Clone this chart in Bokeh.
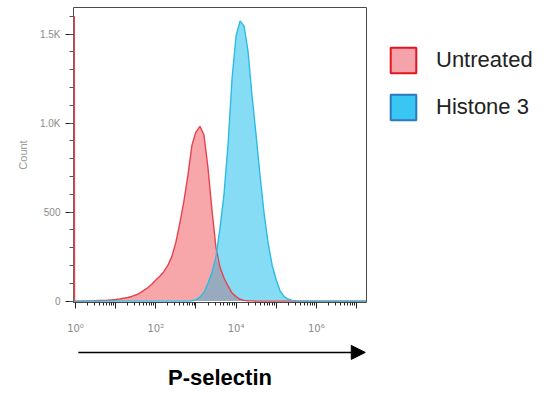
import numpy as np
from bokeh.plotting import figure
from bokeh.layouts import column
from bokeh.models import (FixedTicker, Range1d, Arrow, NormalHead, Legend,
                          LegendItem, ColumnDataSource)
from bokeh.embed import file_html
from bokeh.resources import INLINE

# ---- data (log10 of P-selectin fluorescence, histogram counts) ----
log_fl = [-0.05, -0.03, -0.025, 0.0, 0.1, 0.2, 0.3, 0.4, 0.5, 0.6, 0.7, 0.8, 0.9,
          1.0, 1.1, 1.2, 1.3, 1.4, 1.5, 1.6, 1.7, 1.8, 1.9,
          2.0, 2.1, 2.2, 2.3, 2.4, 2.5, 2.6, 2.7, 2.8, 2.9,
          3.0, 3.1, 3.2, 3.3, 3.4, 3.5, 3.6, 3.7, 3.8, 3.9,
          4.0, 4.1, 4.2, 4.3, 4.4, 4.5, 4.6, 4.7, 4.8, 4.9,
          5.0, 5.1, 5.2, 5.3, 5.4, 5.5, 5.6, 5.8, 6.0, 7.25]
untreated = [1600, 1600, 0, 0, 0, 0, 1, 1, 2, 3, 4, 5, 7,
             9, 12, 16, 20, 26, 34, 45, 60, 75, 95,
             118, 140, 165, 200, 250, 330, 440, 560, 705, 875,
             950, 982, 935, 750, 510, 300, 190, 130, 85, 45,
             25, 10, 4, 2, 1, 0, 0, 0, 0, 0,
             0, 0, 0, 0, 0, 0, 0, 0, 0, 0]
histone3 = [0, 0, 0, 0, 0, 0, 0, 0, 0, 0, 0, 0, 0,
            0, 0, 0, 0, 0, 0, 0, 0, 0, 0,
            0, 0, 0, 0, 0, 0, 0, 0, 0, 2,
            8, 22, 50, 100, 160, 250, 410, 600, 880, 1250,
            1490, 1575, 1545, 1400, 1150, 930, 700, 490, 325, 200,
            120, 55, 25, 10, 4, 1, 0, 0, 0, 0]
series_names = ["Untreated", "Histone 3"]

x_decades = [0, 1, 2, 3, 4, 5, 6, 7]
x_tick_labels = {0: "10\u2070", 2: "10\u00b2", 4: "10\u2074", 6: "10\u2076"}
y_ticks = [0, 500, 1000, 1500]
y_tick_labels = ["0", "500", "1.0K", "1.5K"]
y_minor = list(range(0, 1700, 100))

x_label = "P-selectin"
y_label = "Count"

# ---- colours ----
RED_FILL, RED_LINE = "#F7A6AA", "#E6434E"
BLUE_FILL, BLUE_LINE = "#86DCF4", "#2DBBE4"
OVERLAP_FILL = "#98AABD"

FONT = "Liberation Sans"
W = 548
LEFT, FRAME_W = 73, 293
RIGHT = W - LEFT - FRAME_W

xr = Range1d(-0.05, 7.25)

p = figure(output_backend="svg", toolbar_location=None,
           x_range=xr, y_range=Range1d(-8, 1650),
           frame_width=FRAME_W, frame_height=295,
           min_border_left=LEFT, min_border_top=7, min_border_right=RIGHT,
           min_border_bottom=40)
p.grid.visible = False
p.outline_line_color = "#4a4a4a"
p.outline_line_width = 1

xs = np.array(log_fl)
red = np.array(untreated)
blue = np.array(histone3)
src = ColumnDataSource(dict(x=xs, red=red, blue=blue, both=np.minimum(red, blue)))

p.varea(x="x", y1=0, y2="red", source=src, fill_color=RED_FILL)
p.varea(x="x", y1=0, y2="blue", source=src, fill_color=BLUE_FILL)
p.varea(x="x", y1=0, y2="both", source=src, fill_color=OVERLAP_FILL)
p.line(x="x", y="red", source=src, line_color=RED_LINE, line_width=1.4)
p.line(x="x", y="blue", source=src, line_color=BLUE_LINE, line_width=1.4)

# ---- axes ----
minor_x = [d + np.log10(k) for d in x_decades[:-1] for k in range(2, 10)]
p.xaxis.ticker = FixedTicker(ticks=x_decades, minor_ticks=minor_x)
p.xaxis.major_label_overrides = {d: x_tick_labels.get(d, "") for d in x_decades}
p.xaxis.axis_line_color = None
p.xaxis.major_tick_line_color = "#222222"
p.xaxis.minor_tick_line_color = "#222222"
p.xaxis.major_tick_out = 6
p.xaxis.major_tick_in = 0
p.xaxis.minor_tick_out = 3
p.xaxis.minor_tick_in = 0
p.xaxis.major_label_text_font = "DejaVu Sans"
p.xaxis.major_label_text_font_size = "10px"
p.xaxis.major_label_text_color = "#8a8a8a"
p.xaxis.major_label_standoff = 14

p.yaxis.ticker = FixedTicker(ticks=y_ticks, minor_ticks=y_minor)
p.yaxis.major_label_overrides = dict(zip(y_ticks, y_tick_labels))
p.yaxis.axis_line_color = None
p.yaxis.major_tick_line_color = "#222222"
p.yaxis.minor_tick_line_color = "#555555"
p.yaxis.major_tick_out = 8
p.yaxis.major_tick_in = 0
p.yaxis.minor_tick_out = 4
p.yaxis.minor_tick_in = 0
p.yaxis.major_label_text_font = FONT
p.yaxis.major_label_text_font_size = "10px"
p.yaxis.major_label_text_color = "#8a8a8a"
p.yaxis.major_label_standoff = 5
p.yaxis.axis_label = y_label
p.yaxis.axis_label_text_font = FONT
p.yaxis.axis_label_text_font_size = "11px"
p.yaxis.axis_label_text_font_style = "normal"
p.yaxis.axis_label_text_color = "#9a9a9a"
p.yaxis.axis_label_standoff = 8

# ---- legend (proxy swatches, nothing drawn in the plot area) ----
nan = [float("nan")]
leg_red = p.quad(left=nan, right=nan, top=nan, bottom=nan,
                 fill_color="#F5A3AA", line_color="#E3141E", line_width=2)
leg_blue = p.quad(left=nan, right=nan, top=nan, bottom=nan,
                  fill_color="#3AC6F3", line_color="#2F78BE", line_width=2)
legend = Legend(items=[LegendItem(label=series_names[0], renderers=[leg_red]),
                       LegendItem(label=series_names[1], renderers=[leg_blue])],
                location=(21, 179), glyph_width=32, glyph_height=32,
                label_text_font=FONT, label_text_font_size="22px",
                label_text_color="#222222", label_standoff=17, spacing=15,
                padding=0, margin=0, border_line_color=None,
                background_fill_alpha=0)
p.add_layout(legend, "right")

# ---- arrow + axis title strip below ----
q = figure(output_backend="svg", toolbar_location=None,
           x_range=xr, y_range=Range1d(0, 1),
           frame_width=FRAME_W, frame_height=18,
           min_border_left=LEFT, min_border_right=RIGHT,
           min_border_top=0, min_border_bottom=25)
q.grid.visible = False
q.outline_line_color = None
q.yaxis.visible = False
q.xaxis.ticker = FixedTicker(ticks=[])
q.xaxis.axis_line_color = None
q.xaxis.major_tick_line_color = None
q.xaxis.minor_tick_line_color = None
q.xaxis.axis_label = x_label
q.xaxis.axis_label_text_font = FONT
q.xaxis.axis_label_text_font_size = "22px"
q.xaxis.axis_label_text_font_style = "bold"
q.xaxis.axis_label_text_color = "black"
q.xaxis.axis_label_standoff = 4
q.add_layout(Arrow(x_start=0.07, y_start=0.45, x_end=7.22, y_end=0.45,
                   line_color="black", line_width=1.5,
                   end=NormalHead(size=14, fill_color="black", line_color="black")))

layout = column(p, q, spacing=0)
open("out.html", "w").write(file_html(layout, INLINE))
